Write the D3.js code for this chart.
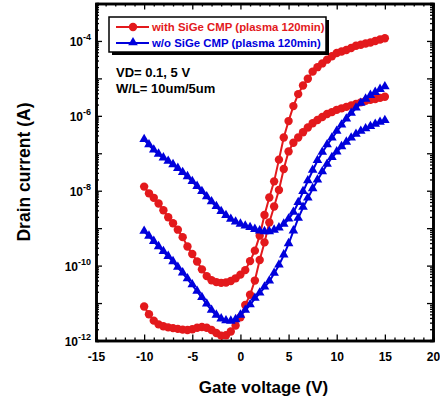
<!DOCTYPE html>

<head>
  <title>Drain current vs gate voltage</title>
  <meta charset="utf-8">
  <script type="text/javascript" src="https://cdn.jsdelivr.net/npm/d3@7"></script>
  <style>
    body { margin: 0; background: #fff; }
    text { font-family: "Liberation Sans", Arial, sans-serif; font-weight: bold; }
  </style>
</head>

<body>
  <div id="chart"></div>
</body>

<script>
  // gate voltage sweep (V)
  var gateVoltage = [-10, -9.5, -9, -8.5, -8, -7.5, -7, -6.5, -6, -5.5, -5, -4.5, -4, -3.5, -3, -2.5, -2, -1.5, -1, -0.5,
    0, 0.5, 1, 1.5, 2, 2.5, 3, 3.5, 4, 4.5, 5, 5.5, 6, 6.5, 7, 7.5, 8, 8.5, 9, 9.5,
    10, 10.5, 11, 11.5, 12, 12.5, 13, 13.5, 14, 14.5, 15];

  // drain current, stored as log10(I / A)
  var withSiGeVd5 = [-7.89, -8.07, -8.19, -8.34, -8.52, -8.71, -8.87, -9.04, -9.24, -9.49, -9.69, -9.89, -10.1, -10.28, -10.39, -10.44, -10.46, -10.45, -10.41, -10.34,
    -10.24, -10.12, -9.88, -9.6, -9.2, -8.65, -8.18, -7.75, -7.17, -6.58, -6.14, -5.74, -5.42, -5.19, -5.01, -4.82, -4.7, -4.6, -4.5, -4.41,
    -4.32, -4.28, -4.24, -4.19, -4.13, -4.1, -4.07, -4.04, -4.0, -3.96, -3.93];
  var withSiGeVd01 = [-11.09, -11.3, -11.47, -11.57, -11.62, -11.65, -11.67, -11.69, -11.71, -11.72, -11.7, -11.66, -11.64, -11.66, -11.72, -11.8, -11.87, -11.86, -11.76, -11.6,
    -11.38, -11.05, -10.78, -10.4, -9.85, -9.38, -8.85, -8.42, -7.98, -7.42, -6.95, -6.72, -6.58, -6.44, -6.31, -6.2, -6.11, -6.03, -5.95, -5.9,
    -5.84, -5.8, -5.76, -5.72, -5.68, -5.64, -5.6, -5.57, -5.55, -5.52, -5.49];
  var woSiGeVd5 = [-6.64, -6.78, -6.92, -7.03, -7.13, -7.22, -7.31, -7.41, -7.52, -7.63, -7.76, -7.89, -8.03, -8.17, -8.3, -8.43, -8.56, -8.67, -8.77, -8.84,
    -8.9, -8.95, -8.99, -9.04, -9.08, -9.1, -9.1, -9.06, -9.0, -8.9, -8.76, -8.58, -8.32, -8.03, -7.74, -7.46, -7.2, -6.98, -6.78, -6.6,
    -6.42, -6.25, -6.09, -5.94, -5.8, -5.67, -5.56, -5.46, -5.38, -5.3, -5.23];
  var woSiGeVd01 = [-9.09, -9.22, -9.36, -9.5, -9.63, -9.76, -9.9, -10.05, -10.2, -10.36, -10.52, -10.69, -10.86, -11.03, -11.2, -11.33, -11.43, -11.48, -11.49, -11.45,
    -11.33, -11.2, -11.05, -10.88, -10.74, -10.58, -10.42, -10.21, -9.99, -9.72, -9.42, -9.08, -8.74, -8.45, -8.2, -7.95, -7.72, -7.5, -7.3, -7.12,
    -6.97, -6.83, -6.71, -6.6, -6.5, -6.42, -6.35, -6.29, -6.23, -6.18, -6.13];

  var legendNames = ["with SiGe CMP (plasma 120min)", "w/o SiGe CMP (plasma 120min)"];
  var noteLines = ["VD= 0.1, 5 V", "W/L= 10um/5um"];
  var xTickValues = [-15, -10, -5, 0, 5, 10, 15, 20];
  var xMinorValues = [-14, -13, -12, -11, -9, -8, -7, -6, -4, -3, -2, -1, 1, 2, 3, 4, 6, 7, 8, 9, 11, 12, 13, 14, 16, 17, 18, 19];
  var yDecades = [-12, -11, -10, -9, -8, -7, -6, -5, -4, -3];
  var yLabelExps = [-12, -10, -8, -6, -4];

  var red = "#e3191c", blue = "#0000dc";

  var margin = {top: 3.5, right: 7, bottom: 65, left: 96},
      width = 440 - margin.left - margin.right,
      height = 406 - margin.top - margin.bottom - 0.5;

  var svg = d3.select("#chart")
    .append("svg")
    .attr("width", 440)
    .attr("height", 406)
    .append("g")
    .attr("transform", "translate(" + margin.left + "," + margin.top + ")");

  var x = d3.scaleLinear().domain([-15, 20]).range([0, width]);
  var y = d3.scaleLog().domain([1e-12, 1e-3]).range([height, 0]);

  var yMajor = yDecades.map(function(e) { return Math.pow(10, e); });
  var yMinor = [];
  yDecades.slice(0, -1).forEach(function(e) {
    [2, 3, 4, 5, 6, 7, 8, 9].forEach(function(m) { yMinor.push(m * Math.pow(10, e)); });
  });

  function styleAxis(g) {
    g.selectAll(".tick line").attr("stroke", "#000").attr("stroke-width", 1.3);
    g.select(".domain").attr("stroke", "#000").attr("stroke-width", 2.6);
    return g;
  }

  // minor ticks first, all pointing inward
  svg.append("g").attr("transform", "translate(0," + height + ")")
    .call(d3.axisBottom(x).tickValues(xMinorValues).tickSize(-3).tickFormat("")).call(styleAxis);
  svg.append("g")
    .call(d3.axisTop(x).tickValues(xMinorValues).tickSize(-3).tickFormat("")).call(styleAxis);
  svg.append("g")
    .call(d3.axisLeft(y).tickValues(yMinor).tickSize(-3).tickFormat("")).call(styleAxis);
  svg.append("g").attr("transform", "translate(" + width + ",0)")
    .call(d3.axisRight(y).tickValues(yMinor).tickSize(-3).tickFormat("")).call(styleAxis);

  // major ticks
  var xAxis = svg.append("g").attr("transform", "translate(0," + height + ")")
    .call(d3.axisBottom(x).tickValues(xTickValues).tickSize(-6).tickSizeOuter(0).tickPadding(12)
      .tickFormat(function(d) { return String(d); }))
    .call(styleAxis);
  xAxis.selectAll("text").attr("fill", "#000").attr("font-size", 12);
  svg.append("g")
    .call(d3.axisTop(x).tickValues(xTickValues).tickSize(-6).tickSizeOuter(0).tickFormat("")).call(styleAxis);
  svg.append("g")
    .call(d3.axisLeft(y).tickValues(yMajor).tickSize(-6).tickSizeOuter(0).tickFormat("")).call(styleAxis);
  svg.append("g").attr("transform", "translate(" + width + ",0)")
    .call(d3.axisRight(y).tickValues(yMajor).tickSize(-6).tickSizeOuter(0).tickFormat("")).call(styleAxis);

  // y labels as 10^n with superscript
  yLabelExps.forEach(function(e) {
    var t = svg.append("text")
      .attr("x", -5)
      .attr("y", y(Math.pow(10, e)) + 5)
      .attr("text-anchor", "end")
      .attr("font-size", 12)
      .attr("fill", "#000");
    t.append("tspan").text("10");
    t.append("tspan").attr("dy", -6).attr("font-size", 9).text(String(e));
  });

  // axis titles
  svg.append("text")
    .attr("x", width / 2 - 1)
    .attr("y", height + 52)
    .attr("text-anchor", "middle")
    .attr("font-size", 17)
    .text("Gate voltage (V)");
  svg.append("text")
    .attr("transform", "translate(-66," + (height / 2) + ") rotate(-90)")
    .attr("text-anchor", "middle")
    .attr("font-size", 17.5)
    .text("Drain current (A)");

  var line = d3.line()
    .x(function(d) { return x(d[0]); })
    .y(function(d) { return y(Math.pow(10, d[1])); });

  function pairs(vals) {
    return gateVoltage.map(function(v, i) { return [v, vals[i]]; });
  }

  var triangle = d3.symbol().type(d3.symbolTriangle).size(40);

  function drawCurve(vals, color, marker) {
    var data = pairs(vals);
    svg.append("path")
      .datum(data)
      .attr("fill", "none")
      .attr("stroke", color)
      .attr("stroke-width", 2)
      .attr("d", line);
    if (marker == "circle") {
      svg.append("g").selectAll("circle")
        .data(data).enter().append("circle")
        .attr("cx", function(d) { return x(d[0]); })
        .attr("cy", function(d) { return y(Math.pow(10, d[1])); })
        .attr("r", 4.2)
        .attr("fill", color);
    } else {
      svg.append("g").selectAll("path")
        .data(data).enter().append("path")
        .attr("transform", function(d) { return "translate(" + x(d[0]) + "," + (y(Math.pow(10, d[1])) - 0.5) + ")"; })
        .attr("d", triangle)
        .attr("fill", color);
    }
  }

  drawCurve(withSiGeVd5, red, "circle");
  drawCurve(withSiGeVd01, red, "circle");
  drawCurve(woSiGeVd5, blue, "triangle");
  drawCurve(woSiGeVd01, blue, "triangle");

  // legend box with shadow
  var lg = svg.append("g").attr("transform", "translate(13,13.5)");
  lg.append("rect").attr("x", 3).attr("y", 3).attr("width", 217).attr("height", 35).attr("fill", "#000");
  lg.append("rect").attr("width", 217).attr("height", 35).attr("fill", "#fff")
    .attr("stroke", "#000").attr("stroke-width", 1.5);
  [red, blue].forEach(function(c, i) {
    var row = lg.append("g").attr("transform", "translate(0," + (10 + i * 16) + ")");
    row.append("line").attr("x1", 7).attr("x2", 40).attr("stroke", c).attr("stroke-width", 2);
    if (i == 0) {
      row.append("circle").attr("cx", 24).attr("r", 4.2).attr("fill", c);
    } else {
      row.append("path").attr("transform", "translate(24,-0.5)").attr("d", triangle).attr("fill", c);
    }
    row.append("text").attr("x", 43).attr("y", 4.2).attr("font-size", 11.4).attr("fill", c).text(legendNames[i]);
  });

  // measurement note
  noteLines.forEach(function(s, i) {
    svg.append("text")
      .attr("x", 20)
      .attr("y", 73 + i * 16)
      .attr("font-size", 13)
      .attr("fill", "#000")
      .text(s);
  });
</script>
